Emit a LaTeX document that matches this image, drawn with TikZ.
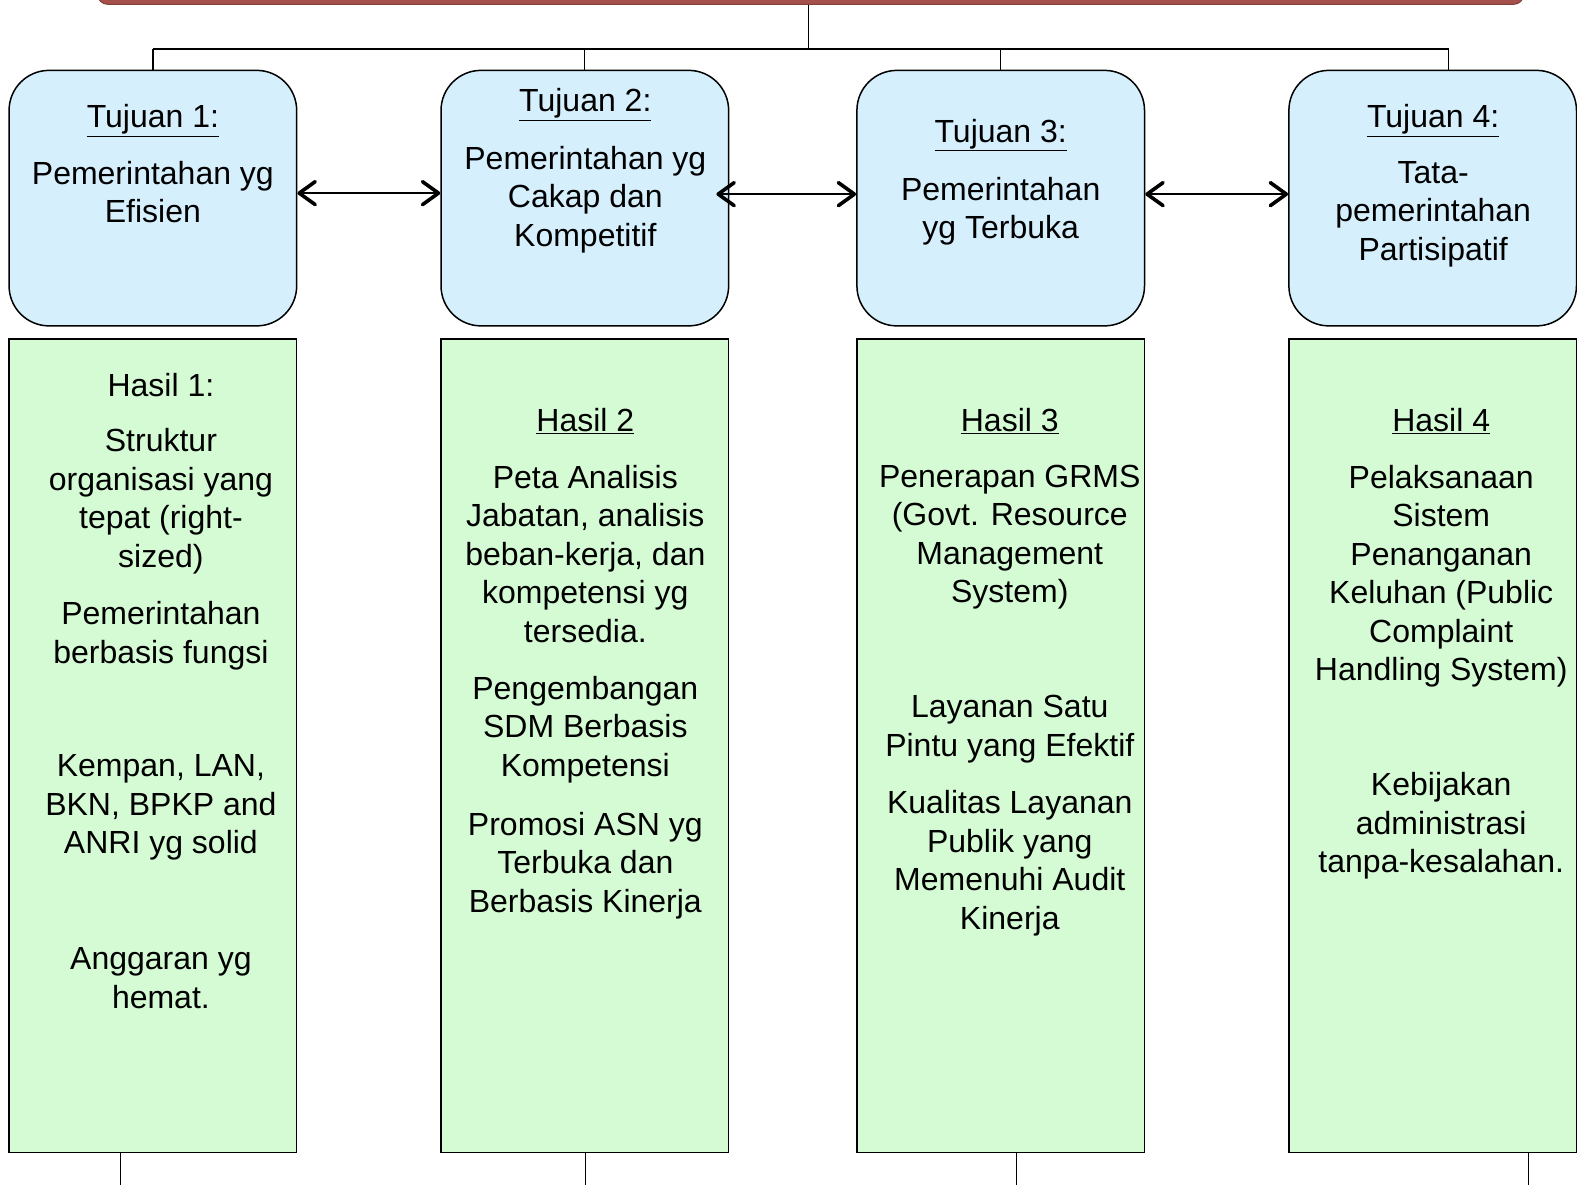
\documentclass[tikz,border=0pt]{standalone}
\usepackage{fontspec}
\setmainfont{Liberation Sans}
\usetikzlibrary{arrows.meta}
\definecolor{bluefill}{HTML}{D5EFFD}
\definecolor{greenfill}{HTML}{D5FBD5}
\definecolor{barred}{HTML}{A5504A}
\begin{document}
\begin{tikzpicture}[x=1.00574pt,y=-1.00574pt,
  goal/.style={draw=black,line width=1.5pt,fill=bluefill,rounded corners=40pt,minimum width=287.6pt,minimum height=255.5pt,inner sep=0pt},
  result/.style={draw=black,line width=1.3pt,fill=greenfill,minimum width=287.6pt,minimum height=813.6pt,inner sep=0pt},
  txt/.style={font=\fontsize{32}{38.5}\selectfont,align=center,inner sep=0pt,anchor=north},
  conn/.style={line width=1.3pt},
  dbl/.style={line width=1.8pt,{Straight Barb[length=16pt,width=23pt,line width=3.6pt,round]}-{Straight Barb[length=16pt,width=23pt,line width=3.6pt,round]}}
]
\useasboundingbox (0,0) rectangle (1568,1178);
\clip (0,0) rectangle (1568,1178);
\fill[white] (0,0) rectangle (1568,1178);

% top bar
\node[draw=barred!80!black,line width=1pt,fill=barred,rounded corners=10pt,minimum width=1426pt,minimum height=60pt,inner sep=0pt] (bar) at (806,-25.5) {};
\coordinate (hub) at (804,49);

% goal boxes
\node[goal] (t1) at (152,197) {};
\node[goal] (t2) at (581.5,197) {};
\node[goal] (t3) at (995,197) {};
\node[goal] (t4) at (1424.5,197) {};

% result boxes
\node[result] (h1) at (152,741.5) {};
\node[result] (h2) at (581.5,741.5) {};
\node[result] (h3) at (995,741.5) {};
\node[result] (h4) at (1424.5,741.5) {};

% tree connectors
\draw[conn] (bar.south -| hub) -- (hub);
\draw[line width=2.4pt] (t1.north |- hub) -- ([xshift=16pt]t4.north |- hub);
\draw[conn] (t1.north |- hub) -- (t1.north);
\draw[conn] (t2.north |- hub) -- (t2.north);
\draw[conn] (t3.north |- hub) -- (t3.north);
\draw[conn] ([xshift=16pt]t4.north |- hub) -- ([xshift=16pt]t4.north);

% bottom connectors
\coordinate (b1) at (120,1200);
\coordinate (b2) at (582,1200);
\coordinate (b3) at (1011,1200);
\coordinate (b4) at (1520,1200);
\draw[conn] (b1 |- h1.south) -- (b1);
\draw[conn] (b2 |- h2.south) -- (b2);
\draw[conn] (b3 |- h3.south) -- (b3);
\draw[conn] (b4 |- h4.south) -- (b4);

% arrows
\draw[dbl] ([yshift=5pt]t1.east) -- ([yshift=5pt]t2.west);
\draw[dbl] ([xshift=-13pt,yshift=4pt]t2.east) -- ([yshift=4pt]t3.west);
\draw[dbl] ([yshift=4pt]t3.east) -- ([yshift=4pt]t4.west);

% goal texts
\node[txt] (t1a) at (152,104) {\underline{Tujuan 1:}};
\node[txt] (t1b) at (152,160) {Pemerintahan yg\\Efisien};
\node[txt] (t2a) at (582,88) {\underline{Tujuan 2:}};
\node[txt] (t2b) at (582,145) {Pemerintahan yg\\Cakap dan\\Kompetitif};
\node[txt] (t3a) at (995,118) {\underline{Tujuan 3:}};
\node[txt] (t3b) at (995,176) {Pemerintahan\\yg Terbuka};
\node[txt] (t4a) at (1425,104) {\underline{Tujuan 4:}};
\node[txt] (t4b) at (1425,160) {Tata-\\pemerintahan\\Partisipatif};

% result texts
\node[txt] (h1a) at (160,371) {Hasil 1:};
\node[txt] (h1b) at (160,426) {Struktur\\organisasi yang\\tepat (right-\\sized)};
\node[txt] (h1c) at (160,598) {Pemerintahan\\berbasis fungsi};
\node[txt] (h1d) at (160,750) {Kempan, LAN,\\BKN, BPKP and\\ANRI yg solid};
\node[txt] (h1e) at (160,942) {Anggaran yg\\hemat.};

\node[txt] (h2a) at (582,406) {\underline{Hasil 2}};
\node[txt] (h2b) at (582,462) {Peta Analisis\\Jabatan, analisis\\beban-kerja, dan\\kompetensi yg\\tersedia.};
\node[txt] (h2c) at (582,672) {Pengembangan\\SDM Berbasis\\Kompetensi};
\node[txt] (h2d) at (582,807) {Promosi ASN yg\\Terbuka dan\\Berbasis Kinerja};

\node[txt] (h3a) at (1004,406) {\underline{Hasil 3}};
\node[txt] (h3b) at (1004,462) {Penerapan GRMS\\(Govt. Resource\\Management\\System)};
\node[txt] (h3c) at (1004,691) {Layanan Satu\\Pintu yang Efektif};
\node[txt] (h3d) at (1004,786) {Kualitas Layanan\\Publik yang\\Memenuhi Audit\\Kinerja};

\node[txt] (h4a) at (1433,406) {\underline{Hasil 4}};
\node[txt] (h4b) at (1433,462) {Pelaksanaan\\Sistem\\Penanganan\\Keluhan (Public\\Complaint\\Handling System)};
\node[txt] (h4c) at (1433,768) {Kebijakan\\administrasi\\tanpa-kesalahan.};
\end{tikzpicture}
\end{document}
